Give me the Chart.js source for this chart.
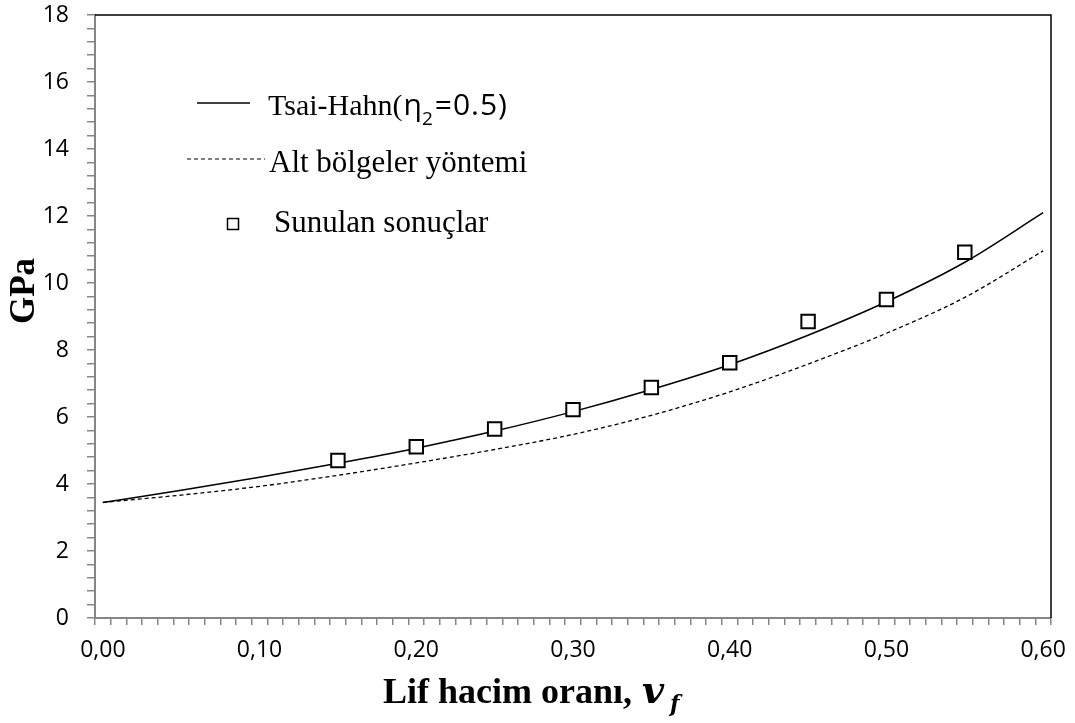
<!DOCTYPE html>
<html>
<head>
<meta charset="utf-8">
<script src="https://cdn.jsdelivr.net/npm/chart.js@4.4.0/dist/chart.umd.min.js"></script>
<style>
	body{margin:0;background:#fff;}
</style>
</head>
<body>
<canvas id="chart" width="1075" height="723"></canvas>
<script>
// category axis like the Excel sheet: one slot per 0.01 of fiber volume fraction
var vfLabels = [];
for(var i=0; i<=60; i++){
	vfLabels.push((i/100).toFixed(2).replace(".", ","));
}

// curves
var curveX = ["0,00","0,05","0,10","0,15","0,20","0,25","0,30","0,35","0,40","0,45","0,50","0,55","0,60"];
var tsaiHahn = [3.45, 3.81, 4.20, 4.62, 5.07, 5.58, 6.16, 6.82, 7.56, 8.44, 9.44, 10.62, 12.10];
var altBolgeler = [3.45, 3.67, 3.93, 4.26, 4.63, 5.03, 5.48, 6.05, 6.75, 7.58, 8.50, 9.57, 10.96];

// presented results (squares)
var sonucX = ["0,15","0,20","0,25","0,30","0,35","0,40","0,45","0,50","0,55"];
var sonucY = [4.70, 5.11, 5.64, 6.22, 6.88, 7.62, 8.85, 9.51, 10.92];

var AXIS_GRAY = "#868686";
// where the plot frame sits in the reference
var AREA = {left: 95, top: 15, right: 1051, bottom: 618};

function pairs(xs, ys){
	var out = [];
	for(var i=0; i<xs.length; i++){
		out.push({x: xs[i], y: ys[i]});
	}
	return out;
}

// let layout.padding alone decide the frame edges
function noScalePadding(scale){
	scale.paddingTop = 0;
	scale.paddingBottom = 0;
	scale.paddingLeft = 0;
	scale.paddingRight = 0;
}

var extras = {
	id: "extras",
	afterDraw: function(chart){
		var ctx = chart.ctx;
		var a = chart.chartArea;
		ctx.save();

		// black top / right frame
		ctx.strokeStyle = "#000";
		ctx.lineWidth = 1.5;
		ctx.beginPath();
		ctx.moveTo(a.left, a.top);
		ctx.lineTo(a.right, a.top);
		ctx.lineTo(a.right, a.bottom);
		ctx.stroke();

		ctx.fillStyle = "#000";
		ctx.textBaseline = "alphabetic";
		ctx.textAlign = "left";

		// legend
		ctx.lineWidth = 1.3;
		ctx.beginPath();
		ctx.moveTo(197, 103);
		ctx.lineTo(250, 103);
		ctx.stroke();

		var x = 268;
		ctx.font = "30px 'Liberation Serif'";
		ctx.fillText("Tsai-Hahn(", x, 115);
		x += ctx.measureText("Tsai-Hahn(").width + 1;
		ctx.font = "30px 'Open Sans'";
		ctx.fillText("η", x, 115);
		x += ctx.measureText("η").width;
		ctx.font = "19px 'Open Sans'";
		ctx.fillText("2", x, 125);
		x += ctx.measureText("2").width + 2;
		ctx.font = "30px 'Open Sans'";
		ctx.letterSpacing = "1px";
		ctx.fillText("=0.5)", x, 115);
		ctx.letterSpacing = "0px";

		ctx.setLineDash([4, 3]);
		ctx.lineWidth = 1.2;
		ctx.beginPath();
		ctx.moveTo(187, 159);
		ctx.lineTo(265, 159);
		ctx.stroke();
		ctx.setLineDash([]);
		ctx.font = "31px 'Liberation Serif'";
		ctx.fillText("Alt bölgeler yöntemi", 269, 172);

		ctx.lineWidth = 1.5;
		ctx.fillStyle = "#fff";
		ctx.fillRect(227.5, 218.5, 11, 11);
		ctx.strokeRect(227.5, 218.5, 11, 11);
		ctx.fillStyle = "#000";
		ctx.fillText("Sunulan sonuçlar", 274, 232);

		// x axis title
		ctx.font = "bold 36px 'Liberation Serif'";
		ctx.fillText("Lif hacim oranı,", 383, 703);
		ctx.font = "italic bold 38px 'DejaVu Serif'";
		ctx.fillText("v", 642, 703);
		ctx.font = "italic bold 22px 'DejaVu Serif'";
		ctx.fillText("f", 670, 711);

		// y axis title
		ctx.translate(25, 291);
		ctx.rotate(-Math.PI/2);
		ctx.textAlign = "center";
		ctx.textBaseline = "middle";
		ctx.font = "bold 35px 'Liberation Serif'";
		ctx.fillText("GPa", 0, 0);

		ctx.restore();
	}
};

var chart = new Chart(document.getElementById("chart"), {
	type: "line",
	data: {
		labels: vfLabels,
		datasets: [
			{
				label: "Sunulan sonuçlar",
				data: pairs(sonucX, sonucY),
				showLine: false,
				pointStyle: "rect",
				pointRadius: 9.5,
				pointBorderWidth: 2,
				pointBorderColor: "#000",
				pointBackgroundColor: "#fff"
			},
			{
				label: "Tsai-Hahn",
				data: pairs(curveX, tsaiHahn),
				borderColor: "#000",
				borderWidth: 1.5,
				pointRadius: 0,
				cubicInterpolationMode: "monotone"
			},
			{
				label: "Alt bölgeler yöntemi",
				data: pairs(curveX, altBolgeler),
				borderColor: "#000",
				borderWidth: 1.3,
				borderDash: [4, 3],
				pointRadius: 0,
				cubicInterpolationMode: "monotone"
			}
		]
	},
	options: {
		responsive: false,
		devicePixelRatio: 1,
		animation: false,
		layout: {padding: {left: 0, right: 1075 - AREA.right, top: AREA.top, bottom: 0}},
		plugins: {
			legend: {display: false},
			tooltip: {enabled: false}
		},
		scales: {
			x: {
				type: "category",
				offset: true,
				afterFit: function(scale){
					scale.height = 723 - AREA.bottom;
					noScalePadding(scale);
				},
				grid: {
					offset: true,
					drawOnChartArea: false,
					drawTicks: true,
					tickLength: 7,
					color: AXIS_GRAY,
					lineWidth: 1.5
				},
				border: {color: AXIS_GRAY, width: 2},
				ticks: {
					autoSkip: false,
					maxRotation: 0,
					padding: 12,
					color: "#000",
					font: {family: "'Open Sans'", size: 23},
					callback: function(val, index){
						return index % 10 === 0 ? this.getLabelForValue(val) : "";
					}
				}
			},
			y: {
				min: 0,
				max: 18,
				afterFit: function(scale){
					scale.width = AREA.left;
					noScalePadding(scale);
				},
				grid: {
					drawOnChartArea: false,
					drawTicks: true,
					tickLength: 8,
					color: AXIS_GRAY,
					lineWidth: 1.5
				},
				border: {color: AXIS_GRAY, width: 2},
				ticks: {
					stepSize: 0.4,
					autoSkip: false,
					padding: 18,
					color: "#000",
					font: {family: "'Open Sans'", size: 23},
					callback: function(v){
						var h = v/2;
						return Math.abs(h - Math.round(h)) < 1e-6 ? String(Math.round(v)) : "";
					}
				}
			}
		}
	},
	plugins: [extras]
});
</script>
</body>
</html>
